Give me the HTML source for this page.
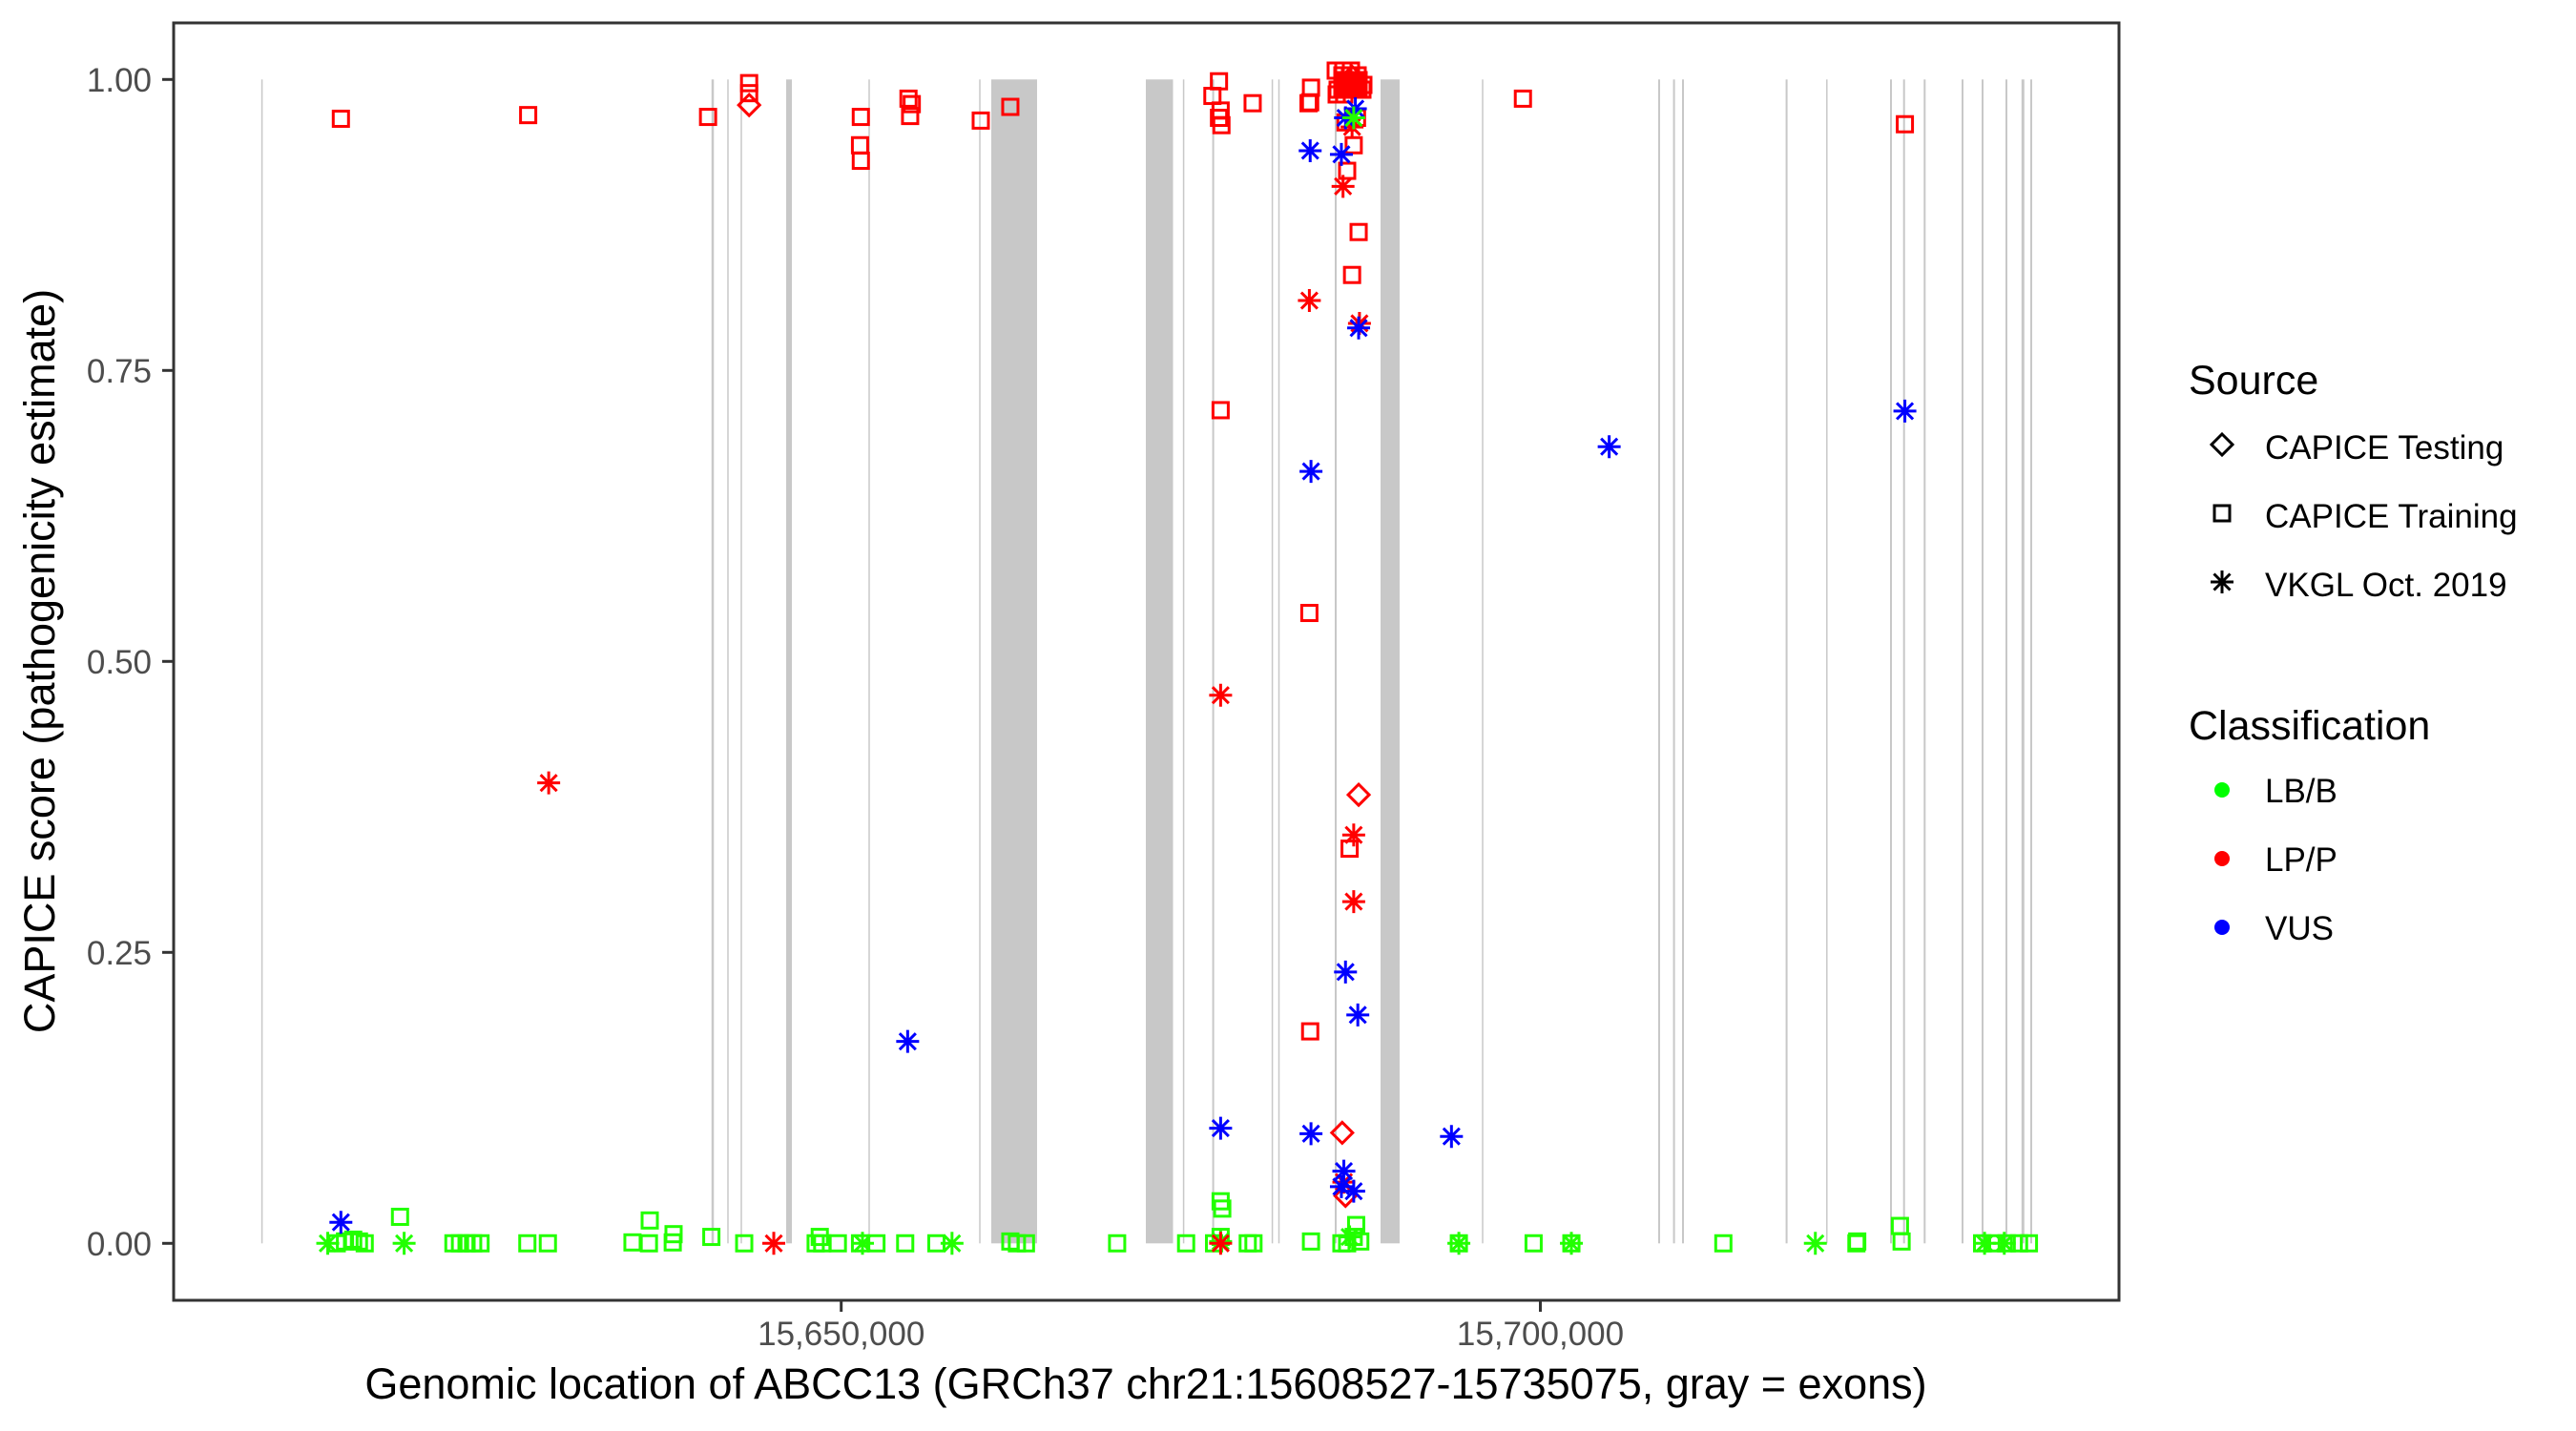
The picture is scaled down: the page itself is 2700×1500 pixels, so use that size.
<!DOCTYPE html>
<html><head><meta charset="utf-8"><style>
html,body{margin:0;padding:0;background:#fff;}
svg{display:block;font-family:"Liberation Sans",Arial,sans-serif;}
</style></head><body>
<svg id="s" width="2700" height="1500" viewBox="0 0 2700 1500" xmlns="http://www.w3.org/2000/svg">
<rect width="2700" height="1500" fill="#fff"/>
<g id="exons" fill="#c8c8c8"></g>
<g id="pts" fill="none" stroke-width="3"></g>
<rect x="182" y="24" width="2039" height="1339" fill="none" stroke="#333" stroke-width="3"/>
<g stroke="#333" stroke-width="3">
<line x1="170" y1="83.3" x2="182" y2="83.3"/><line x1="170" y1="388.3" x2="182" y2="388.3"/>
<line x1="170" y1="693.3" x2="182" y2="693.3"/><line x1="170" y1="998.3" x2="182" y2="998.3"/>
<line x1="170" y1="1303.3" x2="182" y2="1303.3"/>
<line x1="881.7" y1="1363" x2="881.7" y2="1375"/><line x1="1614.5" y1="1363" x2="1614.5" y2="1375"/>
</g>
<g fill="#4d4d4d" font-size="35" text-anchor="end">
<text x="159" y="96">1.00</text><text x="159" y="401">0.75</text><text x="159" y="706">0.50</text>
<text x="159" y="1011">0.25</text><text x="159" y="1316">0.00</text>
</g>
<g fill="#4d4d4d" font-size="35" text-anchor="middle">
<text x="881.7" y="1410">15,650,000</text><text x="1614.5" y="1410">15,700,000</text>
</g>
<text x="1201" y="1466" font-size="45" text-anchor="middle" fill="#000">Genomic location of ABCC13 (GRCh37 chr21:15608527-15735075, gray = exons)</text>
<text transform="translate(57,693) rotate(-90)" font-size="45" text-anchor="middle" fill="#000">CAPICE score (pathogenicity estimate)</text>
<g fill="#000">
<text x="2294" y="413" font-size="43">Source</text>
<text x="2374" y="481" font-size="35">CAPICE Testing</text>
<text x="2374" y="553" font-size="35">CAPICE Training</text>
<text x="2374" y="625" font-size="35">VKGL Oct. 2019</text>
<text x="2294" y="775" font-size="43">Classification</text>
<text x="2374" y="841" font-size="35">LB/B</text>
<text x="2374" y="913" font-size="35">LP/P</text>
<text x="2374" y="985" font-size="35">VUS</text>
</g>
<g id="leg" fill="none" stroke="#000" stroke-width="3"></g>
<circle cx="2329" cy="828" r="8" fill="#00ff00"/>
<circle cx="2329" cy="900" r="8" fill="#ff0000"/>
<circle cx="2329" cy="972" r="8" fill="#0000ff"/>
</svg>
<script>
var NS="http://www.w3.org/2000/svg";
function el(p,t,a){var e=document.createElementNS(NS,t);for(var k in a)e.setAttribute(k,a[k]);p.appendChild(e);return e;}
var ex=document.getElementById('exons');
var lines=[[274.6,1.5],[747,2.5],[763,1.5],[777,1.5],[827,6],[911,1.5],[1027,1.5],[1333.6,1.5],[1340.5,1.5],[1240.6,1.5],[1271.6,2],[1400,2],[1554,1.5],[1739,2],[1754.6,2],[1764,2],[1872.6,2],[1914.8,1.5],[1982,2],[1995.7,2],[2017.3,2],[2057,2],[2078,2],[2103,2],[2120.3,3],[2129,2]];
lines.forEach(function(l){el(ex,'rect',{x:l[0]-l[1]/2,y:83.3,width:l[1],height:1220});});
[[1039,1087],[1201,1229.5],[1447,1467]].forEach(function(b){el(ex,'rect',{x:b[0],y:83.3,width:b[1]-b[0],height:1220});});
var P=document.getElementById('pts');
function z1(x,y){return [x/1.1615,(y-88)/1.0443+83.3];}
function z2(x,y){return [1350+x/1.1615,(y-88)/1.0443+83.3];}
function sq(g,c,p){el(g,'rect',{x:p[0]-8,y:p[1]-8,width:16,height:16,stroke:c});}
function di(g,c,p){el(g,'path',{d:'M'+p[0]+' '+(p[1]-11)+'L'+(p[0]+11)+' '+p[1]+'L'+p[0]+' '+(p[1]+11)+'L'+(p[0]-11)+' '+p[1]+'Z',stroke:c});}
function as(g,c,p){var x=p[0],y=p[1],r=12,d=8.5;
el(g,'path',{d:'M'+(x-r)+' '+y+'H'+(x+r)+'M'+x+' '+(y-r)+'V'+(y+r)+'M'+(x-d)+' '+(y-d)+'L'+(x+d)+' '+(y+d)+'M'+(x-d)+' '+(y+d)+'L'+(x+d)+' '+(y-d),stroke:c});}
var R='#ff0000',G='#22ff00',B='#0000ff';
[[487,1333],[430,1358],[437,1360],[444,1362],[552,1362],[560,1362],[568,1362],[576,1362],[585,1362],[642,1362],[667,1362],[770,1361],[790,1362],[791,1337],[819,1361],[820,1352],[866,1355],[906,1362],[993,1362],[998,1355],[1001,1362],[1020,1362],[1047,1362],[1067,1362],[1102,1362],[1140,1362],[1230,1360],[1238,1362],[1249,1362],[1360,1362],[1444,1362],[1486,1316],[1488,1324],[1478,1362],[1519,1362],[1526,1362],[1486,1355],[410,1362],[420,1360]].forEach(function(a){sq(P,G,z1(a[0],a[1]));});
[[399,1362],[492,1362],[1050,1362],[1159,1362],[1486,1360]].forEach(function(a){as(P,G,z1(a[0],a[1]));});
[[28,1360],[65,1362],[72,1362],[80,1355],[83,1342],[88,1360],[208,1362],[299,1362],[345,1362],[530,1362],[693,1360],[692,1362],[745,1343],[747,1360],[845,1362],[860,1362],[875,1362],[890,1362],[902,1362]].forEach(function(a){sq(P,G,z2(a[0],a[1]));});
[[208,1362],[345,1362],[642,1362],[848,1362],[872,1362],[75,1355]].forEach(function(a){as(P,G,z2(a[0],a[1]));});
[[415,131],[643,127],[862,129],[912,92],[912,103],[1048,129],[1047,160],[1048,177],[1106,109],[1110,115],[1108,128],[1194,133],[1230,118],[1484,90],[1476,106],[1486,122],[1484,130],[1487,138],[1486,450],[1525,114]].forEach(function(a){sq(P,R,z1(a[0],a[1]));});
di(P,R,z1(912,116));
[[668,858],[942,1362],[1486,762],[1486,1362]].forEach(function(a){as(P,R,z1(a[0],a[1]));});
[[28,97],[27,113],[25,114],[80,160],[72,188],[86,255],[78,302],[26,672],[75,930],[27,1130],[286,109],[751,137],[70,135],[84,130]].forEach(function(a){sq(P,R,z2(a[0],a[1]));});
el(P,'rect',{x:1399,y:76,width:33,height:26,fill:R,stroke:R});
for(var i=0;i<14;i++){sq(P,R,[1400+(i*7)%34,74+(i*5)%30]);}
[[67,205],[26,330],[87,355],[80,915],[80,988],[68,1295],[78,140]].forEach(function(a){as(P,R,z2(a[0],a[1]));});
[[86,871],[66,1241],[70,1310],[78,85]].forEach(function(a){di(P,R,z2(a[0],a[1]));});
[[415,1339],[1105,1141],[1486,1236]].forEach(function(a){as(P,B,z1(a[0],a[1]));});
[[27,166],[65,170],[70,130],[82,120],[86,360],[28,517],[391,490],[751,451],[70,1065],[85,1112],[28,1242],[199,1245],[68,1283],[65,1300],[80,1305]].forEach(function(a){as(P,B,z2(a[0],a[1]));});
as(P,G,z2(80,130));
var L=document.getElementById('leg');
di(L,'#000',[2329,466]);sq(L,'#000',[2329,538]);as(L,'#000',[2329,610]);
</script>
</body></html>
